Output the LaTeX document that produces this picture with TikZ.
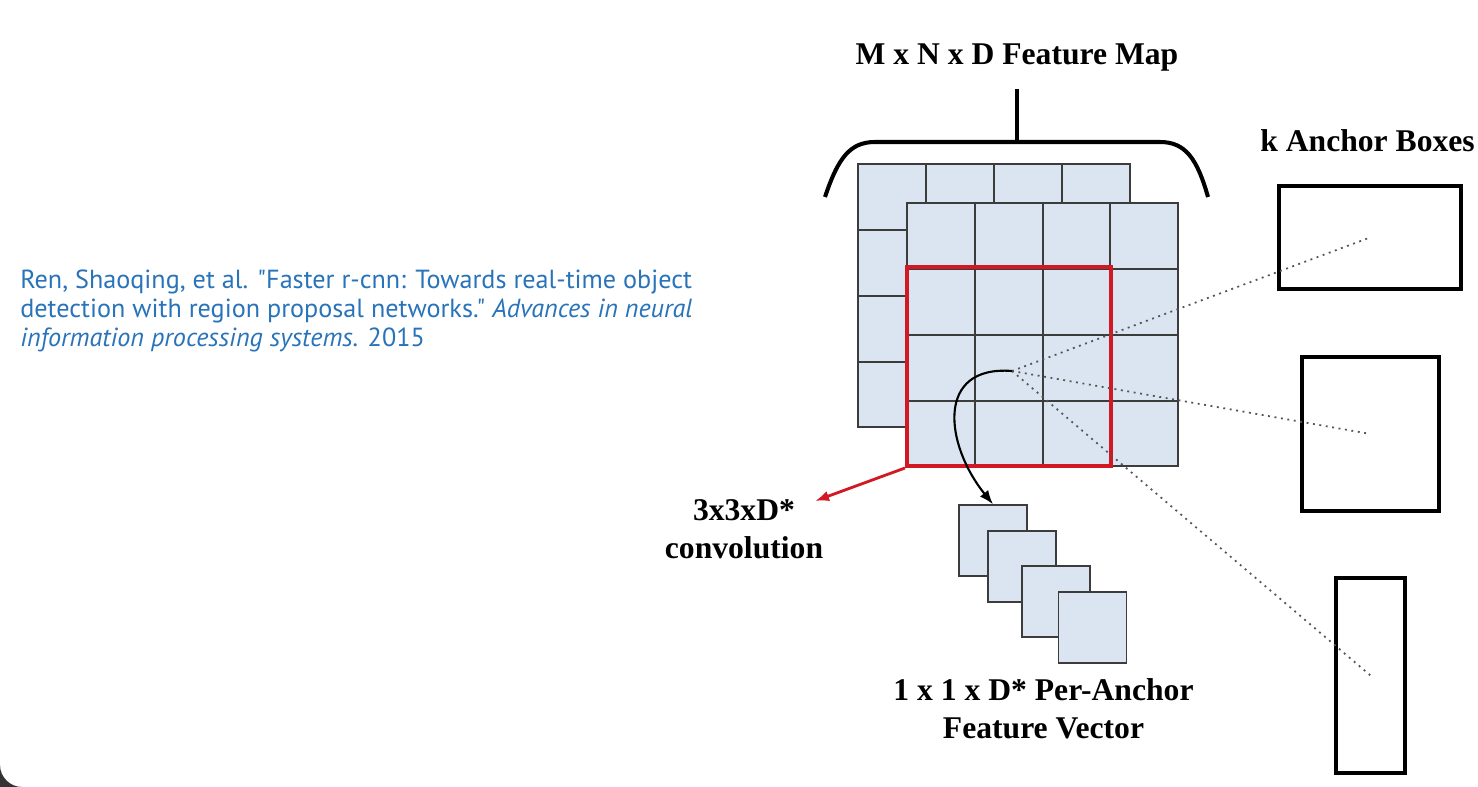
\documentclass[tikz,border=0pt]{standalone}
\usepackage{fontspec}
\setmainfont{Liberation Serif}
\newfontfamily\citefont{PT Sans}
\usetikzlibrary{arrows.meta}
\definecolor{cellblue}{RGB}{219,229,241}
\definecolor{celledge}{RGB}{60,60,60}
\definecolor{convred}{RGB}{210,25,35}
\definecolor{citeblue}{RGB}{40,115,185}
\definecolor{dotgray}{RGB}{85,85,85}
\tikzset{
  layer/.style={draw=celledge,fill=cellblue,line width=0.8pt,inner sep=0pt},
  cell/.style={draw=celledge,line width=0.8pt},
  vec/.style={draw=celledge,fill=cellblue,line width=0.8pt,inner sep=0pt,minimum width=1.36cm,minimum height=1.42cm},
  anchorbox/.style={draw,line width=2.5pt,inner sep=0pt},
  lbl/.style={font=\bfseries\fontsize{18}{21.5}\selectfont,inner sep=0pt,align=center},
  ray/.style={dotgray,line width=1pt,dash pattern=on 1.1pt off 2.6pt},
}
\begin{document}
\begin{tikzpicture}[x=0.02cm,y=-0.02cm,>={Latex[length=8pt,width=6pt]}]
\useasboundingbox (0,0) rectangle (1478,787);
\fill[black!80] (0,765) -- (0,787) -- (22,787) .. controls (10,787) and (0,777) .. (0,765) -- cycle;

\node[citeblue,anchor=west,inner sep=0pt,align=left,font=\citefont\fontsize{14.9}{16.4}\selectfont] (cite) at (20,311) {Ren, Shaoqing, et al. "Faster r-cnn: Towards real-time object\\detection with region proposal networks." \textit{Advances in neural}\\\textit{information processing systems.} 2015};

\node[lbl,anchor=base] (fmtitle) at (1017,65) {M x N x D Feature Map};
\node[lbl,anchor=base west] (ktitle) at (1260,152) {k Anchor Boxes};

% brace over the feature map
\draw[line width=2.3pt] (825,197) .. controls (838,158) and (850,142) .. (875,142) -- (1160,142) .. controls (1185,142) and (1197,158) .. (1208,197);
\coordinate (brtop) at (1017,142);
\draw[line width=2.3pt,shorten >=0.34cm] (brtop) -- (fmtitle.south);

% feature map layers
\node[layer,minimum width=5.44cm,minimum height=5.26cm] (back) at (994,295.5) {};
\draw[cell] (926,164) -- (926,427) (994,164) -- (994,427) (1062,164) -- (1062,427)
  (858,230) -- (1130,230) (858,296) -- (1130,296) (858,362) -- (1130,362);
\node[layer,minimum width=5.42cm,minimum height=5.26cm] (front) at (1042.5,334.5) {};
\draw[cell] (975,203) -- (975,466) (1043,203) -- (1043,466) (1110,203) -- (1110,466)
  (907,269) -- (1178,269) (907,335) -- (1178,335) (907,401) -- (1178,401);
\node[draw=convred,line width=2.3pt,inner sep=0pt,minimum width=4.08cm,minimum height=3.98cm] (win) at (1009,366.5) {};

% anchors
\coordinate (ctr) at (1012,371);
\node[anchorbox,minimum width=3.64cm,minimum height=2.06cm] (anc1) at (1370,237.5) {};
\node[anchorbox,minimum width=2.74cm,minimum height=3.08cm] (anc2) at (1370.5,434) {};
\node[anchorbox,minimum width=1.38cm,minimum height=3.9cm] (anc3) at (1370.5,675.5) {};
\draw[ray] (ctr) -- (anc1.center);
\draw[ray] (ctr) -- (anc2.center);
\draw[ray] (ctr) -- (anc3.center);

% feature vector
\node[vec] (v1) at (993,540.5) {};
\node[vec] (v2) at (1022,566.5) {};
\node[vec] (v3) at (1056,601.5) {};
\node[vec] (v4) at (1092.5,627.5) {};
\draw[->,line width=1.2pt] (ctr) .. controls (935,365) and (945,445) .. (v1.north);

\node[lbl,anchor=north] (conv) at (744,499) {3x3xD*\\convolution};
\coordinate (convtip) at (815,501);
\draw[->,convred,line width=1.6pt] (win.south west) -- (convtip);

\node[lbl,anchor=north] (veclbl) at (1043.5,678) {1 x 1 x D* Per-Anchor\\Feature Vector};
\end{tikzpicture}
\end{document}
